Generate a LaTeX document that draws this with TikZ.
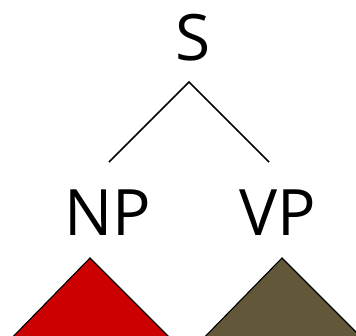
\documentclass[tikz,border=0pt]{standalone}
\usepackage{fontspec}
\setmainfont{Open Sans}
\definecolor{npred}{RGB}{204,0,0}
\definecolor{vpbrown}{RGB}{99,87,57}
\begin{document}
\begin{tikzpicture}[x=1pt,y=-1pt,
  lbl/.style={font=\fontsize{64}{70}\selectfont, anchor=base, inner sep=0pt},
  edge/.style={line width=1.5pt, black},
  tri/.style={draw=black, line width=1.1pt, line join=miter}]
\useasboundingbox (0,0) rectangle (356,335);
\clip (0,0) rectangle (356,335);
\node[lbl] (S) at (193,60) {S};
\node[lbl] (NP) at (108,235) {NP};
\node[lbl] (VP) at (278,235) {VP};
\coordinate (apex) at (189,82);
\coordinate (lend) at (109,162);
\coordinate (rend) at (269,162);
\draw[edge] (lend) -- (apex) -- (rend);
\coordinate (npt) at (90,258);
\coordinate (vpt) at (282,258);
\fill[npred] (npt) -- ++(-90,92) -- ++(182,0) -- cycle;
\draw[tri] (npt) ++(-90,92) -- (npt) -- ++(92,92);
\fill[vpbrown] (vpt) -- ++(-90,92) -- ++(182,0) -- cycle;
\draw[tri] (vpt) ++(-90,92) -- (vpt) -- ++(92,92);
\end{tikzpicture}
\end{document}
